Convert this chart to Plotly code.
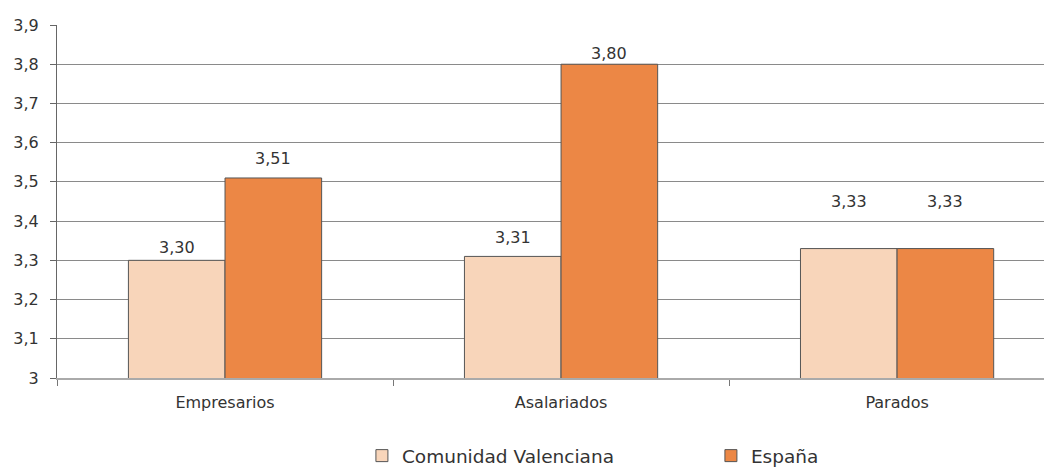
import plotly.graph_objects as go

categories = ["Empresarios", "Asalariados", "Parados"]
series_names = ["Comunidad Valenciana", "España"]
valenciana = [3.30, 3.31, 3.33]
espana = [3.51, 3.80, 3.33]
y_ticks = [3.0, 3.1, 3.2, 3.3, 3.4, 3.5, 3.6, 3.7, 3.8, 3.9]

# styling
colors = ["#F8D5BA", "#EC8745"]
label_yshift = [[13, 19, 47], [19, 11, 47]]
bar_xshift = [-48, 48]
FONT = "DejaVu Sans"

fig = go.Figure()
for name, vals, col in zip(series_names, [valenciana, espana], colors):
    fig.add_trace(go.Bar(
        x=categories, y=vals, name=name,
        marker=dict(color=col, line=dict(color="#555555", width=1)),
    ))

annotations = []
for si, vals in enumerate([valenciana, espana]):
    for ci, (cat, v) in enumerate(zip(categories, vals)):
        annotations.append(dict(
            x=cat, y=v, xref="x", yref="y",
            text=f"{v:.2f}".replace(".", ","),
            showarrow=False, xshift=bar_xshift[si], yshift=label_yshift[si][ci],
            font=dict(family=FONT, size=16, color="#333333"),
        ))

# the page body has an 8px margin, so the figure is 8px smaller on each axis
fig.update_layout(
    width=1044, height=461,
    margin=dict(l=49, r=0, t=17, b=91, autoexpand=False),
    paper_bgcolor="white", plot_bgcolor="white",
    separators=",.",
    barmode="group", bargap=0.425, bargroupgap=0,
    font=dict(family=FONT, size=16, color="#333333"),
    annotations=annotations,
    showlegend=True,
    legend=dict(
        orientation="h", xref="container", yref="container",
        x=0.339, y=0.028, xanchor="left", yanchor="middle",
        entrywidth=304, entrywidthmode="pixels",
        font=dict(family=FONT, size=18.5, color="#333333"),
        itemwidth=30,
    ),
)
fig.update_xaxes(
    range=[-0.5, 2.461],
    showline=True, linecolor="#aaaaaa", linewidth=2,
    ticks="outside", tickson="boundaries", ticklen=6, tickcolor="#777777",
    showgrid=False, ticklabelstandoff=9,
    tickfont=dict(family=FONT, size=16, color="#333333"),
)
fig.update_yaxes(
    range=[3.0, 3.9], tickvals=y_ticks,
    showline=True, linecolor="#666666", linewidth=1,
    ticks="outside", ticklen=6, tickcolor="#666666",
    showgrid=True, gridcolor="#8a8a8a", gridwidth=1,
    zeroline=False, ticklabelstandoff=8,
    tickfont=dict(family=FONT, size=16, color="#333333"),
)

fig.write_html("out.html")
